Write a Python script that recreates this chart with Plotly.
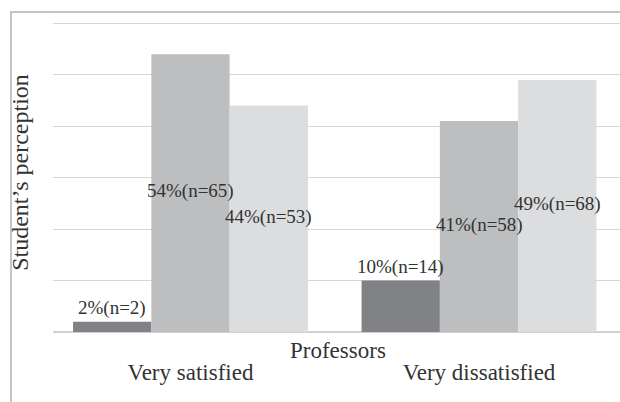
import plotly.graph_objects as go

categories = ["Very satisfied", "Very dissatisfied"]
series_names = ["Series 1", "Series 2", "Series 3"]
pct_values = [[2, 10], [54, 41], [44, 49]]
n_values = [[2, 14], [65, 58], [53, 68]]
colors = ["#808285", "#bcbec0", "#dcdddf"]
y_ticks = [0, 10, 20, 30, 40, 50, 60]

FONT = "Liberation Serif"
TXT = "#333333"

W, H = 620, 402
ml, mr, mt, mb = 53, 0, 13, 70
pw, ph = W - ml - mr, H - mt - mb
x_range = [-0.4766, 1.4887]
y_range = [0, 62]
bargap = 0.186
n_series = len(series_names)
bar_px = pw / (x_range[1] - x_range[0]) * (1 - bargap) / n_series

fig = go.Figure()
annotations = []
for i, name in enumerate(series_names):
    vals = pct_values[i]
    fig.add_trace(go.Bar(
        name=name,
        x=categories,
        y=vals,
        marker=dict(color=colors[i], line=dict(width=0)),
        hoverinfo="skip",
    ))
    for cat, v, n in zip(categories, vals, n_values[i]):
        label = f"{v}%(n={n})"
        inside = v >= 15
        annotations.append(dict(
            text=label, xref="x", yref="y",
            x=cat, y=v / 2 if inside else v,
            xshift=(i - (n_series - 1) / 2) * bar_px,
            yshift=2 if inside else 1,
            xanchor="center", yanchor="middle" if inside else "bottom",
            showarrow=False,
            font=dict(family=FONT, size=19, color=TXT),
        ))

annotations.append(dict(
    text="Professors", xref="paper", yref="paper",
    x=(338 - ml) / pw, y=0, xanchor="center", yanchor="middle",
    yshift=-18, showarrow=False,
    font=dict(family=FONT, size=23, color=TXT),
))

fig.update_layout(
    width=W, height=H,
    margin=dict(l=ml, r=mr, t=mt, b=mb),
    barmode="group",
    bargap=bargap,
    bargroupgap=0,
    showlegend=False,
    paper_bgcolor="white",
    plot_bgcolor="white",
    font=dict(family=FONT, color=TXT),
    xaxis=dict(
        type="category",
        range=x_range,
        showgrid=False,
        showline=False,
        ticks="",
        ticklabelstandoff=24,
        tickfont=dict(family=FONT, size=23, color=TXT),
        fixedrange=True,
        automargin=False,
    ),
    yaxis=dict(
        range=y_range,
        tickvals=y_ticks,
        showticklabels=False,
        showgrid=True,
        gridcolor="#d6d6d6",
        gridwidth=1.2,
        zeroline=True,
        zerolinecolor="#d0d0d0",
        zerolinewidth=1.5,
        ticks="",
        title=dict(text="Student\u2019s perception", font=dict(family=FONT, size=24, color=TXT), standoff=16),
        automargin=False,
        fixedrange=True,
    ),
    annotations=annotations,
    shapes=[dict(
        type="path", xref="paper", yref="paper",
        path=f"M {(11 - ml) / pw} {-(H - mt) / ph} L {(11 - ml) / pw} {1 + 1 / ph} L {1.0} {1 + 1 / ph}",
        line=dict(color="#b3b3b3", width=1.5),
        layer="above",
    )],
)

fig.write_html(
    "out.html",
    config={"displayModeBar": False, "staticPlot": True},
    post_script="document.body.style.margin='0';document.body.style.overflow='hidden';",
)
